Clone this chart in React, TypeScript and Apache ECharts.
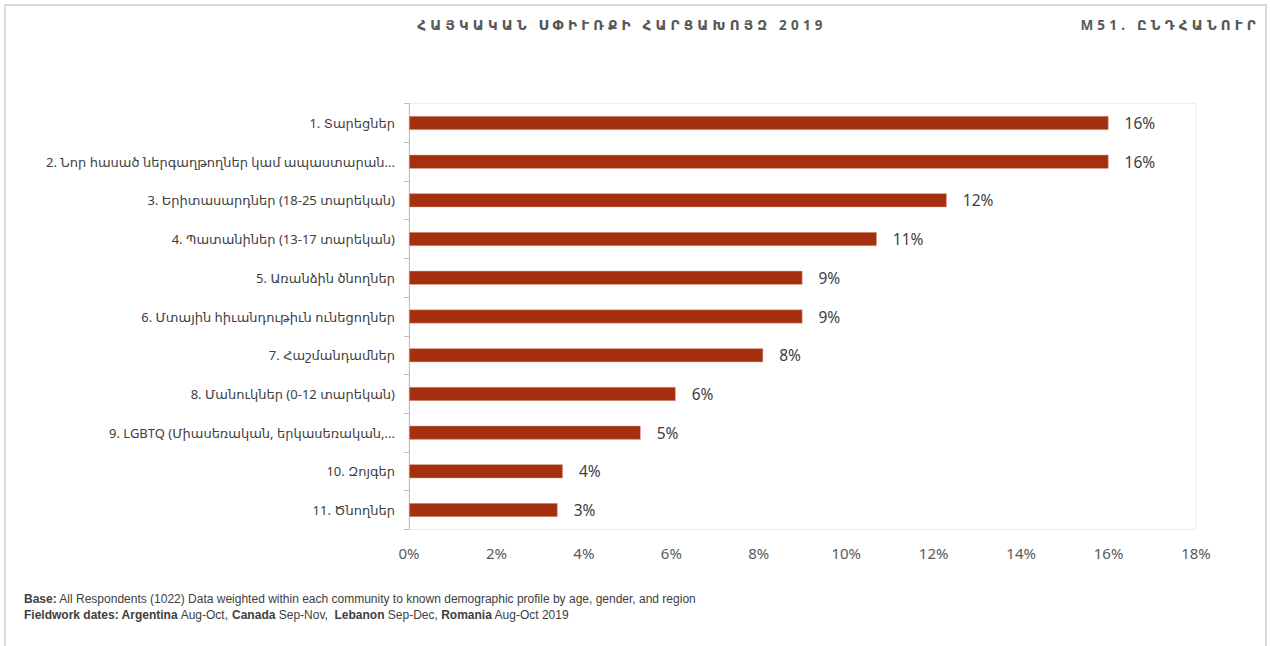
import React, { useEffect, useRef } from 'react';
import * as echarts from 'echarts';

const titleText = 'ՀԱՅԿԱԿԱՆ ՍՓԻՒՌՔԻ ՀԱՐՑԱԽՈՅԶ 2019';
const codeText = 'M51. ԸՆԴՀԱՆՈՒՐ';

const categories = [
  '1. Տարեցներ',
  '2. Նոր հասած ներգաղթողներ կամ ապաստարան...',
  '3. Երիտասարդներ (18-25 տարեկան)',
  '4. Պատանիներ (13-17 տարեկան)',
  '5. Առանձին ծնողներ',
  '6. Մտային հիւանդութիւն ունեցողներ',
  '7. Հաշմանդամներ',
  '8. Մանուկներ (0-12 տարեկան)',
  '9. LGBTQ (Միասեռական, երկասեռական,...',
  '10. Զոյգեր',
  '11. Ծնողներ',
];

const values = [16.0, 16.0, 12.3, 10.7, 9.0, 9.0, 8.1, 6.1, 5.3, 3.52, 3.4];

const xMin = 0;
const xMax = 18;
const xStep = 2;

const footLine1 = '{b|Base:} All Respondents (1022) Data weighted within each community to known demographic profile by age, gender, and region';
const footLine2 = '{b|Fieldwork dates: Argentina} Aug-Oct, {b|Canada} Sep-Nov,  {b|Lebanon} Sep-Dec, {b|Romania} Aug-Oct 2019';

const FONT = "'Noto Sans', 'DejaVu Sans', sans-serif";

export default function App() {
  const ref = useRef<HTMLDivElement>(null);

  useEffect(() => {
    if (!ref.current) return;
    const chart = echarts.init(ref.current, undefined, { renderer: 'svg' });
    chart.setOption({
      animation: false,
      backgroundColor: '#ffffff',
      grid: {
        left: 409,
        right: 74,
        top: 103.6,
        bottom: 116.6,
        show: true,
        borderColor: '#ececec',
        borderWidth: 1,
      },
      xAxis: {
        type: 'value',
        min: xMin,
        max: xMax,
        interval: xStep,
        axisLine: { show: false },
        axisTick: { show: false },
        splitLine: { show: false },
        axisLabel: {
          formatter: (v: number) => `${v}%`,
          color: '#595959',
          fontSize: 15,
          fontFamily: FONT,
          margin: 16,
        },
      },
      yAxis: {
        type: 'category',
        data: categories,
        inverse: true,
        axisLine: { show: true, lineStyle: { color: '#bfbfbf', width: 1 } },
        axisTick: { show: true, length: 5, lineStyle: { color: '#bfbfbf' } },
        axisLabel: {
          color: '#404040',
          fontSize: 13,
          fontFamily: FONT,
          margin: 14,
        },
      },
      series: [
        {
          type: 'bar',
          data: values,
          barWidth: 14,
          itemStyle: { color: '#A5300F', borderColor: '#e9b8a8', borderWidth: 0.5 },
          label: {
            show: true,
            position: 'right',
            distance: 16,
            formatter: (p: any) => `${Math.round(p.value)}%`,
            color: '#404040',
            fontSize: 15.5,
            fontFamily: FONT,
          },
        },
      ],
      graphic: [
        {
          type: 'rect',
          shape: { x: 5, y: 5, width: 1261, height: 700 },
          style: { fill: 'none', stroke: '#d9d9d9', lineWidth: 2 },
          silent: true,
        },
        {
          type: 'text',
          x: 622,
          y: 25,
          style: {
            text: titleText,
            fill: '#595959',
            font: `bold 13.5px ${FONT}`,
            textAlign: 'center',
            textVerticalAlign: 'middle',
          },
        },
        {
          type: 'text',
          x: 1260,
          y: 25,
          style: {
            text: codeText,
            fill: '#595959',
            font: `bold 13.5px ${FONT}`,
            textAlign: 'right',
            textVerticalAlign: 'middle',
          },
        },
        {
          type: 'text',
          x: 24,
          y: 591,
          style: {
            text: footLine1 + '\n' + footLine2,
            fill: '#404040',
            font: `12px 'Liberation Sans', sans-serif`,
            lineHeight: 16,
            rich: {
              b: { fontWeight: 'bold', fill: '#404040', fontSize: 12, fontFamily: "'Liberation Sans', sans-serif", lineHeight: 16 },
            },
          },
        },
      ],
    });
    return () => chart.dispose();
  }, []);

  return (
    <>
      <style>{`svg text[style*="13.5px"] { letter-spacing: 4.2px; }`}</style>
      <div
        ref={ref}
        style={{ position: 'fixed', left: 0, top: 0, width: 1270, height: 646 }}
      />
    </>
  );
}
